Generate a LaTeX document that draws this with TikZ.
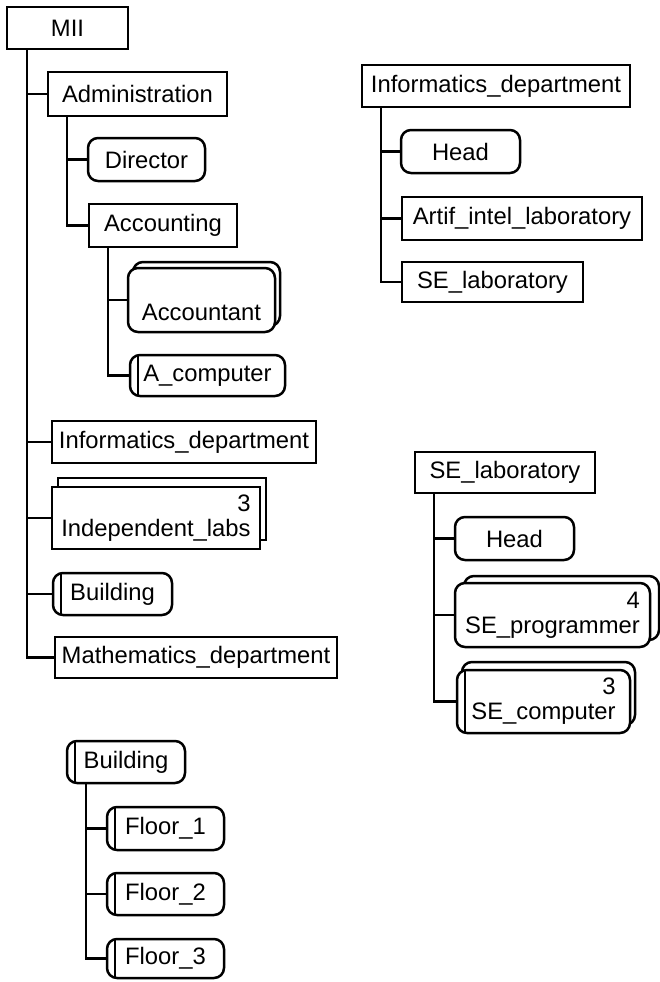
\documentclass[tikz,border=0pt]{standalone}
\usepackage{fontspec}
\setmainfont{Liberation Sans}
\usetikzlibrary{shadows}
\begin{document}
\begin{tikzpicture}[x=1pt,y=-1pt,
  every node/.style={font=\fontsize{23.8}{25}\selectfont},
  unitbox/.style={draw, line width=2.5pt, fill=white, inner sep=0pt, align=center},
  roundbox/.style={unitbox, rounded corners=10pt},
  twinedge/.style={path picture={\draw[line width=2.2pt]
      ([xshift=8pt]path picture bounding box.north west) --
      ([xshift=8pt]path picture bounding box.south west);}},
  stacked/.style 2 args={align=right, copy shadow={shadow xshift=#1, shadow yshift=#2}},
  link/.style={line width=2.3pt}
]
\useasboundingbox (0,0) rectangle (660,982);

% ---- MII structure ----
\node[unitbox, minimum width=121, minimum height=42] (mii) at (67.5,28) {MII};
\node[unitbox, minimum width=179, minimum height=44] (adm) at (137.5,94) {Administration};
\node[roundbox, minimum width=117, minimum height=43] (dir) at (146.5,159.5) {Director};
\node[unitbox, minimum width=148, minimum height=43] (acc) at (163,225.5) {Accounting};
\node[roundbox, stacked={5pt}{6pt}, minimum width=147, minimum height=64] (acct) at (201.5,300) {\phantom{3}\\Accountant};
\node[roundbox, twinedge, minimum width=155, minimum height=41] (acomp) at (207.5,375.5) {A\_computer};
\node[unitbox, minimum width=264, minimum height=42] (infl) at (184,442) {Informatics\_department};
\node[unitbox, stacked={6pt}{9pt}, minimum width=208, minimum height=62] (indl) at (156,518) {3\\Independent\_labs};
\node[roundbox, twinedge, minimum width=119, minimum height=42] (bldg) at (112.5,594) {Building};
\node[unitbox, minimum width=282, minimum height=41] (math) at (196,657.5) {Mathematics\_department};

\coordinate (lt) at ([xshift=21pt]mii.south west);
\draw[link] (lt) |- (math.west);
\foreach \n in {adm,infl,indl,bldg} \draw[link] (lt |- \n.west) -- (\n.west);

\coordinate (at) at ([xshift=20pt]adm.south west);
\draw[link] (at) |- (acc.west);
\draw[link] (at |- dir.west) -- (dir.west);

\coordinate (ct) at ([xshift=20pt]acc.south west);
\draw[link] (ct) |- (acomp.west);
\draw[link] (ct |- acct.west) -- (acct.west);

% ---- Informatics department ----
\node[unitbox, minimum width=268, minimum height=42] (rinf) at (496,86) {Informatics\_department};
\node[roundbox, minimum width=119, minimum height=43] (rhead) at (460.5,151.5) {Head};
\node[unitbox, minimum width=240, minimum height=43] (ai) at (522,218.5) {Artif\_intel\_laboratory};
\node[unitbox, minimum width=181, minimum height=40] (rse) at (492.5,282) {SE\_laboratory};

\coordinate (rt) at ([xshift=20pt]rinf.south west);
\draw[link] (rt) |- (rse.west);
\foreach \n in {rhead,ai} \draw[link] (rt |- \n.west) -- (\n.west);

% ---- SE laboratory ----
\node[unitbox, minimum width=180, minimum height=41] (se) at (505,472.5) {SE\_laboratory};
\node[roundbox, minimum width=119, minimum height=43] (shead) at (514.5,538.5) {Head};
\node[roundbox, stacked={9pt}{7pt}, minimum width=195, minimum height=64] (sprog) at (552.5,615) {4\\SE\_programmer};
\node[roundbox, twinedge, stacked={5pt}{8pt}, minimum width=173, minimum height=63] (scomp) at (543.5,701.5) {3\\SE\_computer};

\coordinate (st) at ([xshift=20pt]se.south west);
\draw[link] (st) |- (scomp.west);
\foreach \n in {shead,sprog} \draw[link] (st |- \n.west) -- (\n.west);

% ---- Building ----
\node[roundbox, twinedge, minimum width=118, minimum height=42] (bb) at (126,762) {Building};
\node[roundbox, twinedge, minimum width=117, minimum height=43] (f1) at (165.5,828.5) {Floor\_1};
\node[roundbox, twinedge, minimum width=117, minimum height=42] (f2) at (165.5,894) {Floor\_2};
\node[roundbox, twinedge, minimum width=117, minimum height=39] (f3) at (165.5,958.5) {Floor\_3};

\coordinate (bt) at ([xshift=20pt]bb.south west);
\draw[link] (bt) |- (f3.west);
\foreach \n in {f1,f2} \draw[link] (bt |- \n.west) -- (\n.west);
\end{tikzpicture}
\end{document}
